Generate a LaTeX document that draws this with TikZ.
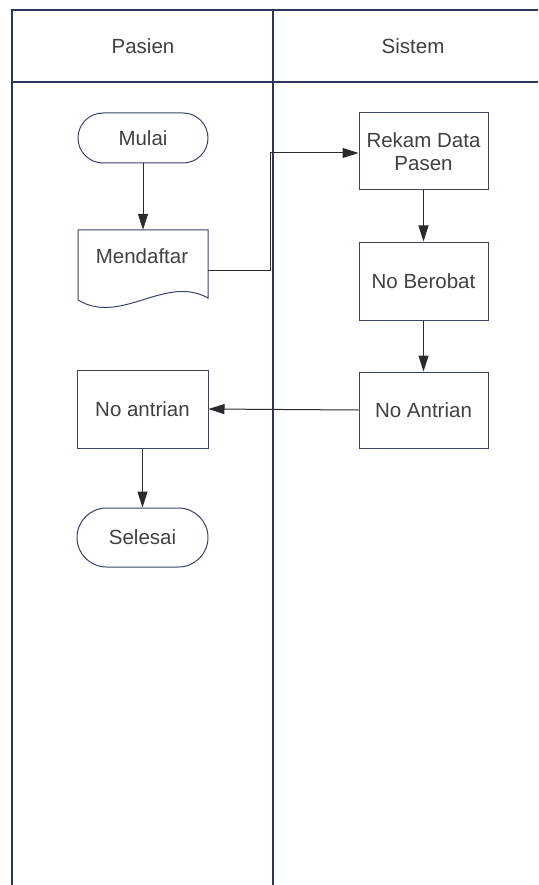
\documentclass[tikz,border=0pt]{standalone}
\usepackage{fontspec}
\setmainfont{Liberation Sans}
\usetikzlibrary{arrows.meta,shapes.misc}
\definecolor{frame}{HTML}{2E3558}
\definecolor{nodeline}{HTML}{3A4268}
\definecolor{txt}{HTML}{404040}
\definecolor{conn}{HTML}{2A2A2A}
\begin{document}
\begin{tikzpicture}[x=1pt,y=-1pt,
  every node/.style={font=\fontsize{20.5}{23}\selectfont, text=txt},
  boxnode/.style={draw=nodeline, line width=1pt, minimum width=129pt, inner sep=0pt, align=center},
  termnode/.style={boxnode, rounded rectangle, minimum width=130pt},
  conline/.style={draw=conn, line width=1pt, -{Triangle[length=16pt,width=10pt]}},
  lane/.style={draw=frame, line width=1.3pt}]
\useasboundingbox (0,0) rectangle (538,885);
% frame
\draw[lane] (12,885) -- (12,10) -- (538,10);
\draw[lane] (12,82) -- (538,82);
\draw[lane] (273,10) -- (273,885);
\node (h1) at (143,46) {Pasien};
\node (h2) at (413,46) {Sistem};
% nodes
\node[termnode, minimum height=50pt] (mulai) at (143,138) {Mulai};
\node[draw=none, minimum width=130pt, minimum height=70pt, inner sep=0pt] (daftar) at (143,265) {};
\draw[nodeline, line width=1pt] (78,300) -- (78,230) -- (208,230) -- (208,298)
  .. controls (165,274) and (121,326) .. (78,300);
\node (daftartxt) at (142,256) {Mendaftar};
\node[boxnode, minimum height=77pt] (rekam) at (423.5,151.5) {Rekam Data\\Pasen};
\node[boxnode, minimum height=78pt] (berobat) at (423.5,281) {No Berobat};
\node[boxnode, minimum height=76pt] (antrian) at (423.5,410) {No Antrian};
\node[boxnode, minimum height=78pt, minimum width=131pt] (antrianp) at (142.5,409) {No antrian};
\node[termnode, minimum height=59pt, minimum width=131pt] (selesai) at (142.5,537.5) {Selesai};
% connectors
\coordinate (bend1) at (270,270);
\coordinate (bend2) at (270,153);
\draw[conline] (mulai.south) -- (daftar.north);
\draw[conline] (208,270) -- (bend1) -- (bend2) -- (rekam.west |- bend2);
\draw[conline] (rekam.south) -- (berobat.north);
\draw[conline] (berobat.south) -- (antrian.north);
\draw[conline] (antrian.west) -- (antrianp.east);
\draw[conline] (antrianp.south) -- (selesai.north);
\end{tikzpicture}
\end{document}
